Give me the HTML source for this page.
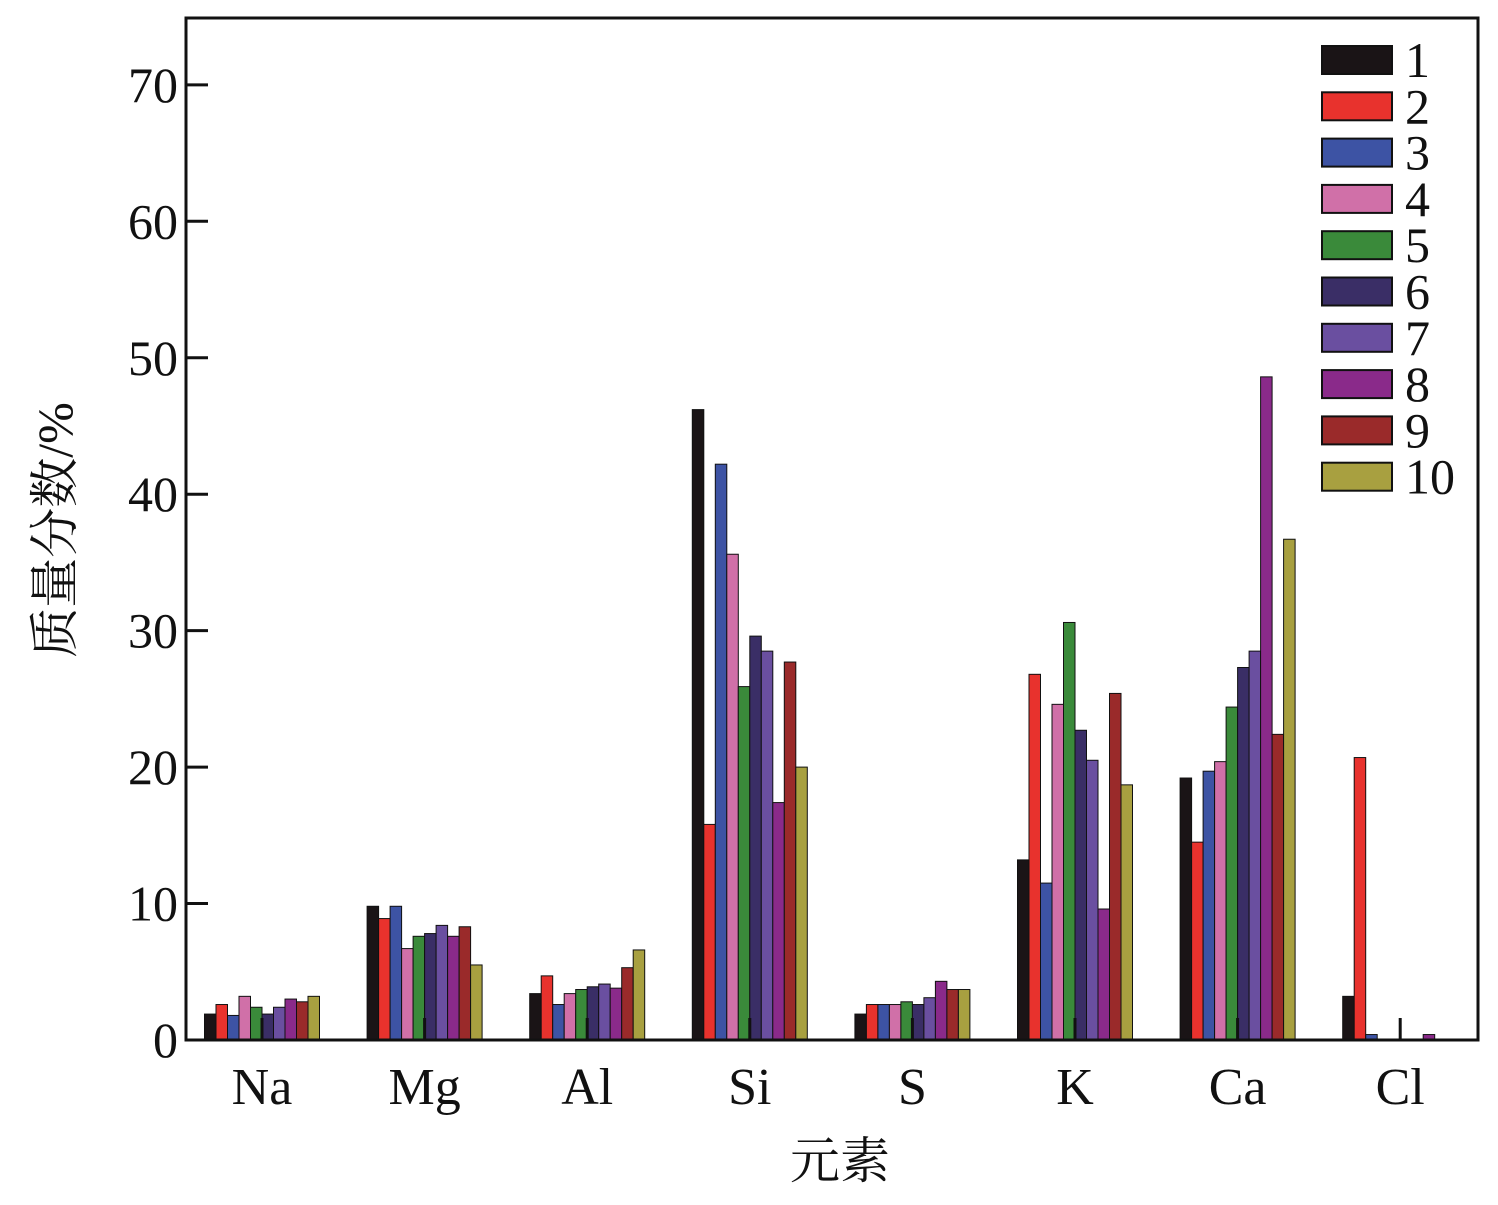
<!DOCTYPE html>
<html><head><meta charset="utf-8"><style>
body{margin:0;background:#fff}
svg text{font-family:"Liberation Serif","Noto Serif CJK SC",serif;fill:#111}
</style></head><body>
<svg id="chart" width="1498" height="1200" xmlns="http://www.w3.org/2000/svg"></svg>
<script>
const categories=["Na","Mg","Al","Si","S","K","Ca","Cl"];
const seriesNames=["1","2","3","4","5","6","7","8","9","10"];
const s1=[1.9,9.8,3.4,46.2,1.9,13.2,19.2,3.2];
const s2=[2.6,8.9,4.7,15.8,2.6,26.8,14.5,20.7];
const s3=[1.8,9.8,2.6,42.2,2.6,11.5,19.7,0.4];
const s4=[3.2,6.7,3.4,35.6,2.6,24.6,20.4,0];
const s5=[2.4,7.6,3.7,25.9,2.8,30.6,24.4,0];
const s6=[1.9,7.8,3.9,29.6,2.6,22.7,27.3,0];
const s7=[2.4,8.4,4.1,28.5,3.1,20.5,28.5,0];
const s8=[3.0,7.6,3.8,17.4,4.3,9.6,48.6,0.4];
const s9=[2.8,8.3,5.3,27.7,3.7,25.4,22.4,0];
const s10=[3.2,5.5,6.6,20.0,3.7,18.7,36.7,0];
const yTicks=[0,10,20,30,40,50,60,70];
const series=[s1,s2,s3,s4,s5,s6,s7,s8,s9,s10];
const colors=["#1a1416","#e8322d","#3d53a4","#d070a8","#3a8a3a","#3a2e66","#6a4fa0","#8a2a8a","#9a2a2a","#a8a040"];
const svg=document.getElementById('chart');
const NS="http://www.w3.org/2000/svg";
const L=186,R=1478,T=18,B=1040,YMAX=74.9;
const y=v=>B-(v/YMAX)*(B-T);
const x=i=>262+i*162.6;
const bw=11.5;
function mk(t,a){const e=document.createElementNS(NS,t);for(const k in a)e.setAttribute(k,a[k]);svg.appendChild(e);return e;}
series.forEach((s,si)=>{s.forEach((v,ci)=>{
 if(v<=0)return;
 const r=mk('rect',{x:x(ci)+(si-5)*bw,y:y(v),width:bw,height:B-y(v),fill:colors[si],stroke:'#111','stroke-width':1});
 
 
});});
const fr=mk('rect',{x:L,y:T,width:R-L,height:B-T,fill:'none',stroke:'#111','stroke-width':3});


yTicks.forEach(t=>{
 const ln=mk('line',{x1:L,x2:L+22,y1:y(t),y2:y(t),stroke:'#111','stroke-width':3});
 
 
 const tx=mk('text',{x:L-8,y:y(t)+17,'text-anchor':'end','font-size':50});
 tx.textContent=t;
 
 
});
categories.forEach((c,ci)=>{
 const ln=mk('line',{x1:x(ci),x2:x(ci),y1:B,y2:B-22,stroke:'#111','stroke-width':3});
 
 
 const tx=mk('text',{x:x(ci),y:1104,'text-anchor':'middle','font-size':52});
 tx.textContent=c;
 
 
});
const xt=mk('text',{x:840,y:1178,'text-anchor':'middle','font-size':50});
xt.textContent='元素';


const yt=mk('text',{x:0,y:0,'text-anchor':'middle','font-size':50,transform:'translate(72,530) rotate(-90)'});
yt.textContent='质量分数/%';


seriesNames.forEach((n,i)=>{
 const yy=46+i*46.3;
 const r=mk('rect',{x:1322,y:yy,width:70,height:28,fill:colors[i],stroke:'#111','stroke-width':2});
 
 
 const tx=mk('text',{x:1405,y:yy+31,'font-size':50});
 tx.textContent=n;
 
 
});
</script>
</body></html>
